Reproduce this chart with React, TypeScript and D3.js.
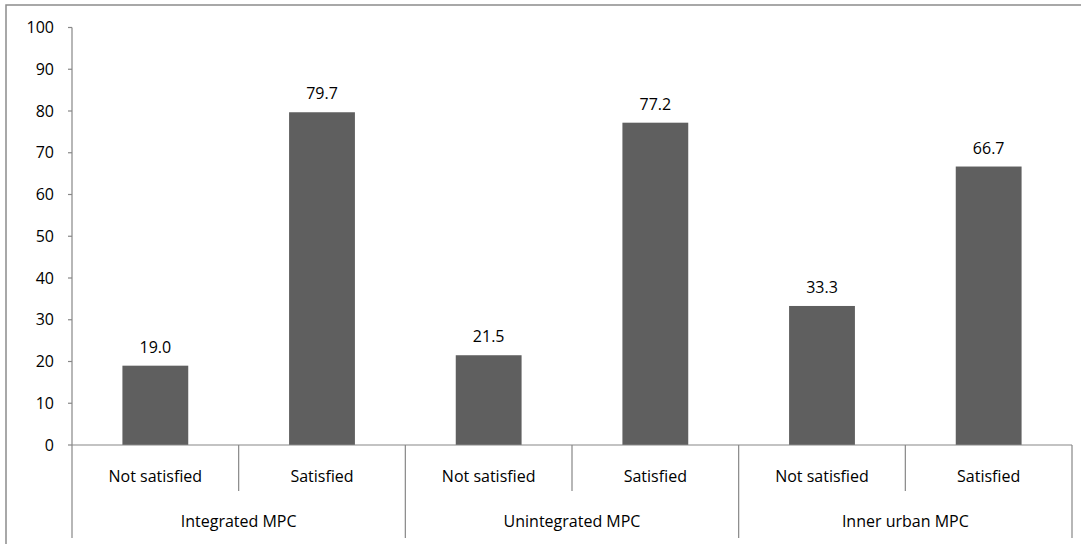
import React from "react";
import * as d3 from "d3";

const groups = ["Integrated MPC", "Unintegrated MPC", "Inner urban MPC"];
const subcats = ["Not satisfied", "Satisfied"];
const values = [19.0, 79.7, 21.5, 77.2, 33.3, 66.7];
const yTicks = [0, 10, 20, 30, 40, 50, 60, 70, 80, 90, 100];

const W = 1081;
const H = 544;
const left = 72;
const right = 1072;
const top = 27.5;
const bottom = 445;
const FONT = "'Open Sans', sans-serif";
const AXIS = "#878787";

export default function App() {
  const keys = groups.flatMap((g, gi) => subcats.map((s, si) => `${gi}-${si}`));
  const x = d3.scaleBand<string>().domain(keys).range([left, right]).paddingInner(0).paddingOuter(0);
  const y = d3.scaleLinear().domain([0, 100]).range([bottom, top]);
  const bw = x.bandwidth() * 0.395;
  const gx = d3.scaleBand<string>().domain(groups).range([left, right]);

  return (
    <svg width={W} height={H} style={{ position: "absolute", left: 0, top: 0, background: "#fff" }}>
      <rect x={6} y={5} width={1200} height={700} fill="#fff" stroke="#8c8c8c" strokeWidth={1.5} />
      {keys.map((k, i) => {
        const cx = x(k)! + x.bandwidth() / 2;
        const v = values[i];
        return (
          <g key={k}>
            <rect x={cx - bw / 2} y={y(v)} width={bw} height={bottom - y(v)} fill="#5f5f5f" />
            <text x={cx} y={y(v) - 13} textAnchor="middle" fontFamily={FONT} fontSize={16} fill="#000">
              {v.toFixed(1)}
            </text>
            <text x={cx} y={482} textAnchor="middle" fontFamily={FONT} fontSize={16} fill="#000">
              {subcats[i % 2]}
            </text>
          </g>
        );
      })}
      {/* y axis */}
      <line x1={left} x2={left} y1={top} y2={bottom} stroke={AXIS} strokeWidth={1.2} />
      {yTicks.map((t) => (
        <g key={t}>
          <line x1={left - 4} x2={left} y1={y(t)} y2={y(t)} stroke={AXIS} strokeWidth={1.2} />
          <text x={54} y={y(t) + 5.5} textAnchor="end" fontFamily={FONT} fontSize={16} fill="#000">
            {t}
          </text>
        </g>
      ))}
      {/* x axis */}
      <line x1={left} x2={right} y1={bottom} y2={bottom} stroke={AXIS} strokeWidth={1.2} />
      {keys.map((k, i) => (
        i % 2 === 1 ? (
          <line key={"t" + k} x1={x(k)!} x2={x(k)!} y1={bottom} y2={491} stroke={AXIS} strokeWidth={1.2} />
        ) : null
      ))}
      {groups.map((g) => (
        <line key={"g" + g} x1={gx(g)!} x2={gx(g)!} y1={bottom} y2={538} stroke={AXIS} strokeWidth={1.2} />
      ))}
      <line x1={right} x2={right} y1={bottom} y2={538} stroke={AXIS} strokeWidth={1.2} />
      {groups.map((g) => (
        <text key={"l" + g} x={gx(g)! + gx.bandwidth() / 2} y={527} textAnchor="middle" fontFamily={FONT} fontSize={16} fill="#000">
          {g}
        </text>
      ))}
    </svg>
  );
}
